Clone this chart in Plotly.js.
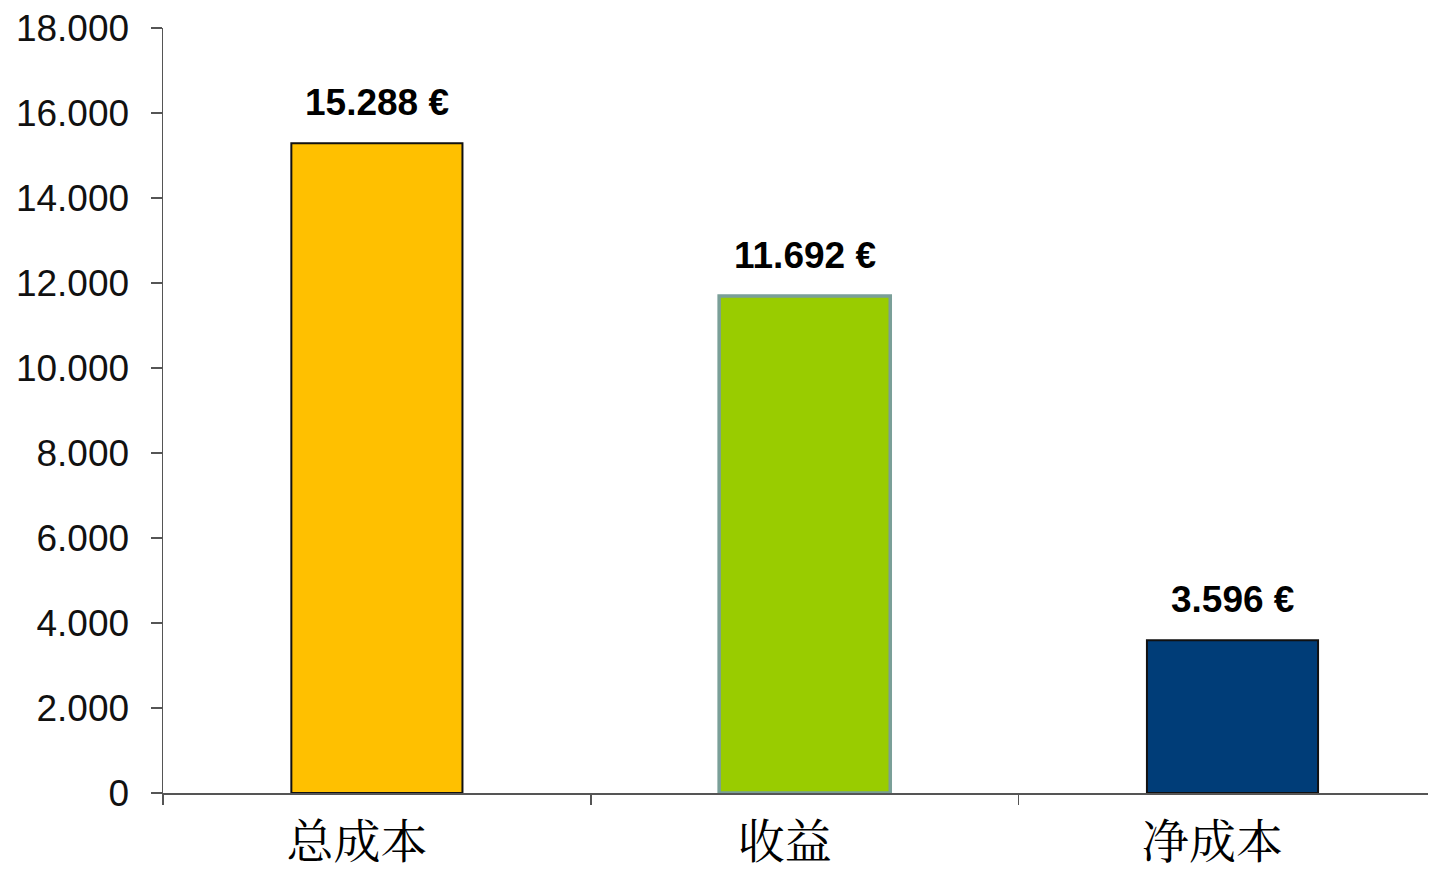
<!DOCTYPE html>
<html>
<head>
<meta charset="utf-8">
<script src="https://cdn.plot.ly/plotly-3.0.1.min.js"></script>
<style>
html,body{margin:0;padding:0;overflow:hidden;background:#fff;}
#chart{width:1429px;height:871px;}
</style>
</head>
<body>
<div id="chart"></div>
<script>
const categories = ["总成本", "收益", "净成本"];
const values = [15288, 11692, 3596];
const barColors = ["#FFC000", "#99CC00", "#003D78"];
const borderColors = ["#111111", "#7A9F98", "#111111"];
const borderWidths = [2, 3.5, 2];
const yTicks = [0, 2000, 4000, 6000, 8000, 10000, 12000, 14000, 16000, 18000];

function fmt(v) {
  return String(v).replace(/\B(?=(\d{3})+(?!\d))/g, ".") + " €";
}

const trace = {
  type: "bar",
  x: categories,
  y: values,
  width: 0.4,
  marker: {
    color: barColors,
    line: { color: borderColors, width: borderWidths }
  },
  hoverinfo: "none"
};

const annotations = categories.map((c, i) => ({
  x: c, y: values[i], xref: "x", yref: "y",
  text: "<b>" + fmt(values[i]) + "</b>",
  showarrow: false,
  yanchor: "middle",
  yshift: 41,
  font: { family: "Liberation Sans, Arial, sans-serif", size: 37, color: "#000" }
}));

const layout = {
  width: 1429,
  height: 871,
  margin: { l: 163, r: 1, t: 28, b: 78 },
  paper_bgcolor: "#fff",
  plot_bgcolor: "#fff",
  separators: ",.",
  showlegend: false,
  xaxis: {
    type: "category",
    range: [-0.5, 2.457],
    showline: true,
    linecolor: "#555",
    linewidth: 1.5,
    ticks: "outside",
    tickson: "boundaries",
    ticklen: 10,
    tickwidth: 1.5,
    tickcolor: "#555",
    ticklabelshift: -20,
    ticklabelstandoff: 7,
    showgrid: false,
    zeroline: false,
    tickfont: { family: "Noto Serif CJK SC, Noto Sans CJK SC, serif", size: 47, color: "#000" },
    fixedrange: true
  },
  yaxis: {
    range: [0, 18000],
    tickvals: yTicks,
    tickformat: ",d",
    showline: true,
    linecolor: "#555",
    linewidth: 1.5,
    ticks: "outside",
    ticklen: 11,
    tickwidth: 1.5,
    tickcolor: "#555",
    ticklabelstandoff: 14,
    showgrid: false,
    zeroline: false,
    tickfont: { family: "Liberation Sans, Arial, sans-serif", size: 37, color: "#111" },
    fixedrange: true
  },
  annotations: annotations
};

Plotly.newPlot("chart", [trace], layout, { displayModeBar: false, staticPlot: true });
</script>
</body>
</html>
